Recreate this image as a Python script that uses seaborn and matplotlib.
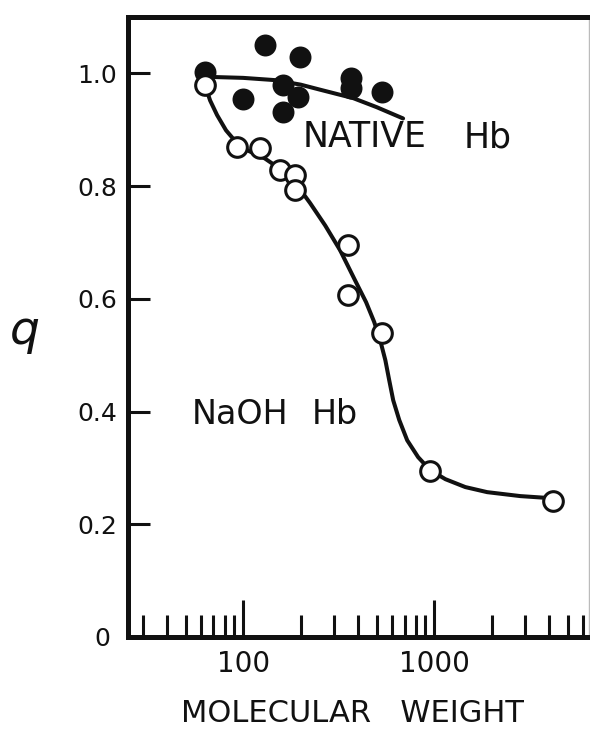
import numpy as np
import pandas as pd
import matplotlib
matplotlib.use("Agg")
import matplotlib.pyplot as plt
import matplotlib.transforms as mtransforms
from matplotlib.ticker import FixedLocator, NullFormatter
import seaborn as sns

# ---- data ----
native_mw = [63, 130, 199, 100, 162, 194, 162, 367, 367, 535]
native_q = [1.003, 1.051, 1.029, 0.955, 0.980, 0.958, 0.932, 0.992, 0.974, 0.967]

native_curve_mw = [63, 100, 147, 200, 253, 377, 500, 687]
native_curve_q = [0.994, 0.992, 0.988, 0.980, 0.971, 0.956, 0.940, 0.920]

naoh_mw = [63, 93, 123, 156, 187, 187, 355, 355, 535, 953, 4200]
naoh_q = [0.980, 0.869, 0.868, 0.828, 0.820, 0.793, 0.695, 0.606, 0.539, 0.295, 0.242]

naoh_curve_mw = [63.2, 67.2, 73.1, 81.4, 91.9, 106, 130, 160, 192, 224, 269, 322,
                 385, 440, 485, 521, 555, 581, 610, 656, 722, 824, 953, 1144,
                 1454, 1892, 2818, 4200]
naoh_curve_q = [0.979, 0.952, 0.926, 0.899, 0.878, 0.863, 0.849, 0.828, 0.801,
                0.770, 0.730, 0.686, 0.633, 0.594, 0.559, 0.527, 0.491, 0.456,
                0.420, 0.385, 0.349, 0.319, 0.296, 0.280, 0.266, 0.257, 0.250,
                0.246]

y_ticks = [0, 0.2, 0.4, 0.6, 0.8, 1.0]
y_ticklabels = ["0", "0.2", "0.4", "0.6", "0.8", "1.0"]
x_major = [100, 1000]
x_major_labels = ["100", "1000"]
x_minor = [30, 40, 50, 60, 70, 80, 90, 200, 300, 400, 500, 600, 700, 800, 900,
           2000, 3000, 4000, 5000, 6000]

sns.set_theme(style="white")
plt.rcParams["font.family"] = ["DejaVu Sans"]

fig = plt.figure(figsize=(5.9, 7.3), dpi=100)
ax = fig.add_axes([128 / 590, 1 - 637 / 730, (589 - 128) / 590, (637 - 17) / 730])

ink = "#111111"
lw = 2.9

sns.lineplot(x=native_curve_mw, y=native_curve_q, ax=ax, color=ink, lw=lw,
             estimator=None, sort=False, solid_joinstyle="round",
             solid_capstyle="round")
sns.lineplot(x=naoh_curve_mw, y=naoh_curve_q, ax=ax, color=ink, lw=lw,
             estimator=None, sort=False, solid_joinstyle="round",
             solid_capstyle="round")
sns.scatterplot(x=native_mw, y=native_q, ax=ax, s=250, color=ink,
                edgecolor=ink, linewidth=0, zorder=5)
sns.scatterplot(x=naoh_mw, y=naoh_q, ax=ax, s=200, facecolor="white",
                edgecolor=ink, linewidth=2.2, zorder=6)

ax.set_xscale("log")
ax.set_xlim(25, 6450)
ax.set_ylim(0, 1.1)

ax.set_xticks(x_major, x_major_labels)
ax.xaxis.set_minor_locator(FixedLocator(x_minor))
ax.xaxis.set_minor_formatter(NullFormatter())
ax.set_yticks(y_ticks, y_ticklabels)
ax.yaxis.set_minor_locator(FixedLocator([]))

ax.tick_params(axis="x", which="major", direction="in", length=27, width=2.2,
               color=ink, labelsize=20, pad=9, labelcolor=ink,
               bottom=True, top=False)
ax.tick_params(axis="x", which="minor", direction="in", length=16, width=2.2,
               color=ink, bottom=True, top=False)
ax.tick_params(axis="y", which="major", direction="in", length=16, width=2.2,
               color=ink, labelsize=18, pad=8, labelcolor=ink,
               left=True, right=False)

# the "0" label sits a little further left in the original lettering
ylabs = ax.get_yticklabels()
ylabs[0].set_transform(ylabs[0].get_transform() +
                       mtransforms.ScaledTranslation(-7 / 100, 0, fig.dpi_scale_trans))

for side in ["left", "bottom", "top"]:
    ax.spines[side].set_linewidth(3.6)
    ax.spines[side].set_color(ink)
ax.spines["right"].set_linewidth(1.0)
ax.spines["right"].set_color("#bbbbbb")

ax.set_xlabel("MOLECULAR   WEIGHT", fontsize=22, color=ink)
ax.xaxis.set_label_coords(0.487, -0.100)
ax.set_ylabel("q", fontsize=34, style="italic", rotation=0, color=ink,
              ha="center", va="center")
ax.yaxis.set_label_coords((25 - 128) / 461, 0.492)

ax.text(206, 0.887, "NATIVE", fontsize=25, color=ink, va="center", ha="left")
ax.text(1419, 0.887, "Hb", fontsize=25, color=ink, va="center", ha="left")
ax.text(54.1, 0.394, "NaOH", fontsize=24, color=ink, va="center", ha="left")
ax.text(229.7, 0.394, "Hb", fontsize=24, color=ink, va="center", ha="left")

fig.savefig("out.png", dpi=100)
